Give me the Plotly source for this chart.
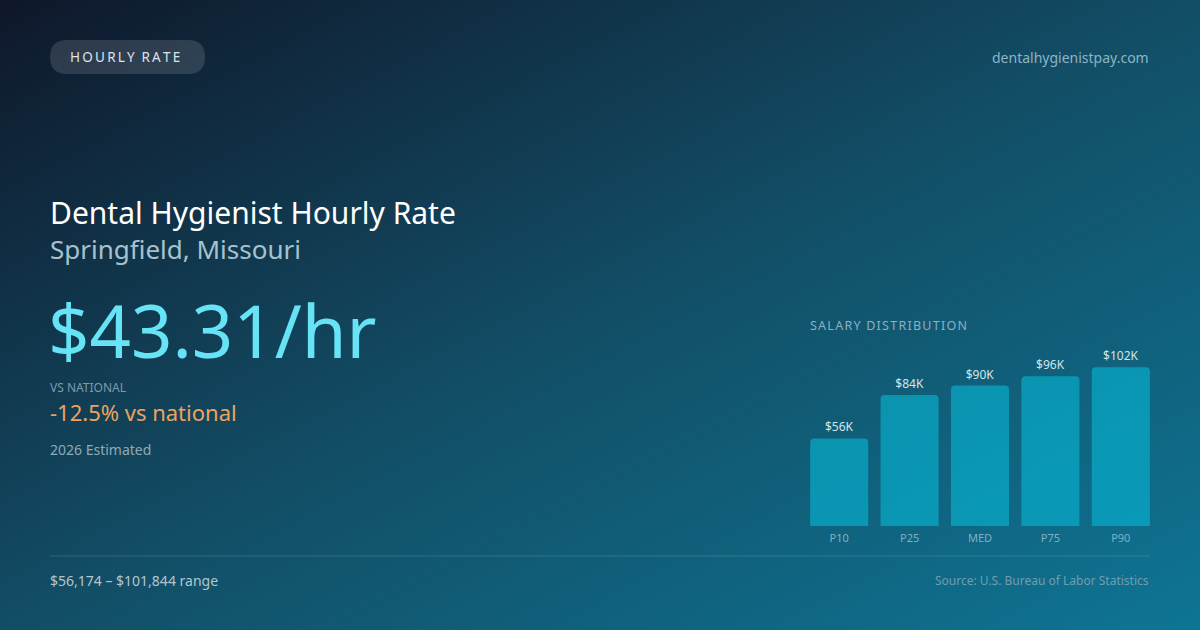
import base64
import plotly.graph_objects as go

# salary distribution (annual, USD)
percentiles = ["P10", "P25", "MED", "P75", "P90"]
salaries = [56174, 84000, 90085, 96000, 101844]
bar_labels = ["$56K", "$84K", "$90K", "$96K", "$102K"]

hourly = "$43.31/hr"
vs_national = "-12.5% vs national"
low, high = 56174, 101844

FONT = "Noto Sans"
W, H = 1200, 630


def px(x):
    return x / W


def py(y):
    # pixel row -> paper fraction
    return 1 - y / H


def spaced(s, sep="\u2009"):
    return sep.join(list(s))


def pill(x0, y0, x1, y1, r):
    # rounded rectangle path in paper coords, built from pixel corners
    pts = [
        ("M", [(x0 + r, y0)]), ("L", [(x1 - r, y0)]), ("Q", [(x1, y0), (x1, y0 + r)]),
        ("L", [(x1, y1 - r)]), ("Q", [(x1, y1), (x1 - r, y1)]), ("L", [(x0 + r, y1)]),
        ("Q", [(x0, y1), (x0, y1 - r)]), ("L", [(x0, y0 + r)]), ("Q", [(x0, y0), (x0 + r, y0)]),
    ]
    out = ""
    for cmd, coords in pts:
        out += cmd + " ".join(f"{px(a):.5f},{py(b):.5f}" for a, b in coords) + " "
    return out + "Z"


# gradient background as an svg data uri
svg = f"""<svg xmlns='http://www.w3.org/2000/svg' width='{W}' height='{H}'>
<defs><linearGradient id='g' x1='0' y1='0' x2='1' y2='1'>
<stop offset='0' stop-color='#0f172a'/>
<stop offset='0.5' stop-color='#124e66'/>
<stop offset='1' stop-color='#0e7594'/>
</linearGradient></defs>
<rect width='{W}' height='{H}' fill='url(#g)'/></svg>"""
bg_uri = "data:image/svg+xml;base64," + base64.b64encode(svg.encode()).decode()

fig = go.Figure()
fig.add_trace(go.Bar(
    x=percentiles, y=salaries,
    text=bar_labels, textposition="outside",
    textfont=dict(family=FONT, size=12, color="#d3e4ea"),
    marker=dict(color="rgba(6,182,212,0.62)", line=dict(width=0)),
    cliponaxis=False, hoverinfo="skip",
))

fig.update_layout(
    width=W, height=H,
    margin=dict(l=0, r=0, t=0, b=0),
    paper_bgcolor="#0f3b52",
    plot_bgcolor="rgba(0,0,0,0)",
    showlegend=False,
    bargap=0.175,
    barcornerradius=4,
    font=dict(family=FONT),
    xaxis=dict(domain=[804 / W, 1156 / W], showgrid=False, zeroline=False,
               showline=False, ticks="", tickfont=dict(family=FONT, size=11, color="#7fb1c3"),
               ticklabelstandoff=4),
    yaxis=dict(domain=[py(526), py(300)], range=[0, 145000], visible=False),
    images=[dict(source=bg_uri, xref="paper", yref="paper", x=0, y=1,
                 sizex=1, sizey=1, xanchor="left", yanchor="top",
                 sizing="stretch", layer="below")],
)

# pill behind "HOURLY RATE" and the footer rule
fig.add_shape(type="path", xref="paper", yref="paper", path=pill(50, 40, 205, 74, 17),
              fillcolor="rgba(255,255,255,0.13)", line_width=0, layer="below")
fig.add_shape(type="line", xref="paper", yref="paper",
              x0=px(50), x1=px(1150), y0=py(556), y1=py(556),
              line=dict(color="rgba(255,255,255,0.14)", width=1))

texts = [
    # text, x px, y px, size, color, anchor
    (spaced("HOURLY") + "\u2002" + spaced("RATE"), 125, 57, 13.5, "#dbe4ea", "center"),
    ("dentalhygienistpay.com", 1151, 57, 14, "#8db4c4", "right"),
    ("Dental Hygienist Hourly Rate", 48, 212, 30, "#ffffff", "left"),
    ("Springfield, Missouri", 48, 249, 26, "#a7c2cf", "left"),
    (hourly, 46, 329, 72.5, "#67e3f6", "left"),
    ("VS NATIONAL", 48, 387, 12, "#7d9cab", "left"),
    (vs_national, 48, 412, 22, "#eda35e", "left"),
    ("2026 Estimated", 48, 449, 14, "#90a9b5", "left"),
    (f"${low:,} \u2013 ${high:,} range", 48, 580, 14, "#b3c6cf", "left"),
    ("Source: U.S. Bureau of Labor Statistics", 1151, 580, 12, "#6f9db0", "right"),
    (spaced("SALARY DISTRIBUTION", "\u200a"), 808, 325, 12.5, "#8db0c0", "left"),
]
for t, x, y, size, color, anchor in texts:
    fig.add_annotation(text=t, x=px(x), y=py(y), xref="paper", yref="paper",
                       xanchor=anchor, yanchor="middle", showarrow=False,
                       font=dict(family=FONT, size=size, color=color))

# drop the default page margin so the card fills the window
fig.write_html("out.html", config={"displayModeBar": False},
               post_script="document.body.style.margin='0';")
